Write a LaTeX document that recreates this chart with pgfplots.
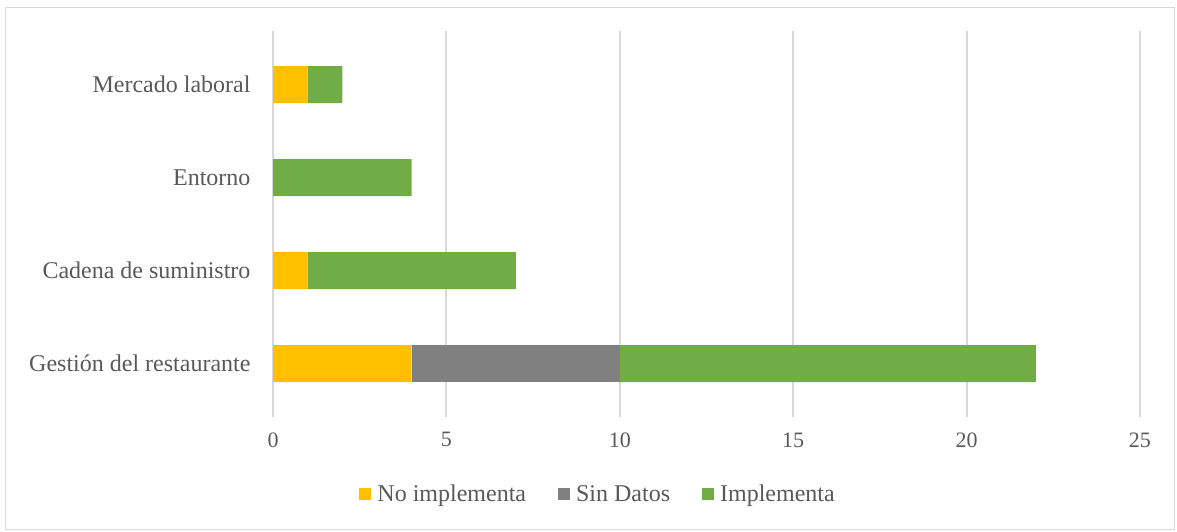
\documentclass[border=0pt]{standalone}
\usepackage{pgfplots}
\pgfplotsset{compat=1.18}
\usepackage{fontspec}
\setmainfont{Liberation Serif}
\definecolor{cNo}{HTML}{FFC000}
\definecolor{cSin}{HTML}{808080}
\definecolor{cImp}{HTML}{70AD47}
\definecolor{cGrid}{HTML}{D9D9D9}
\definecolor{cTxt}{HTML}{595959}
\begin{document}
\begin{tikzpicture}[x=1pt,y=1pt]
\begin{axis}[
  scale only axis,
  width=867pt, height=372pt,
  xbar stacked,
  bar width=37pt,
  xmin=0, xmax=25,
  ymin=-0.5, ymax=3.5,
  xtick={0,5,10,15,20,25},
  ytick={0,1,2,3},
  yticklabels={Gestión del restaurante,Cadena de suministro,Entorno,Mercado laboral},
  axis line style={draw=none},
  xmajorgrids,
  grid style={cGrid, line width=2pt},
  major x tick style={cGrid, line width=2pt},
  major tick length=7pt,
  xtick align=outside,
  ytick style={draw=none},
  tick label style={text=cTxt},
  yticklabel style={font=\fontsize{24}{28}\selectfont, xshift=-19pt},
  xticklabel style={font=\fontsize{22}{26}\selectfont, yshift=-12pt},
  /pgf/number format/assume math mode=true,
  legend style={at={(0.375,-0.226)}, anchor=center, draw=none,
    legend columns=-1, font=\fontsize{24}{28}\selectfont, text=cTxt,
    /tikz/every odd column/.append style={column sep=4pt},
    /tikz/every even column/.append style={column sep=30pt}},
  legend image code/.code={\fill[#1] (0pt,-6pt) rectangle (12pt,6pt);},
  clip=false,
]
\addplot[fill=cNo, draw=none] coordinates {(4,0) (1,1) (0,2) (1,3)};
\addplot[fill=cSin, draw=none] coordinates {(6,0) (0,1) (0,2) (0,3)};
\addplot[fill=cImp, draw=none] coordinates {(12,0) (6,1) (4,2) (1,3)};
\legend{No implementa, Sin Datos, Implementa}
\draw[cGrid, line width=1pt] (rel axis cs:-0.3080,1.0807) rectangle (rel axis cs:1.0393,-0.3199);
\path (rel axis cs:-0.3149,1.1022) rectangle (rel axis cs:1.0427,-0.3253);
\end{axis}
\end{tikzpicture}
\end{document}
